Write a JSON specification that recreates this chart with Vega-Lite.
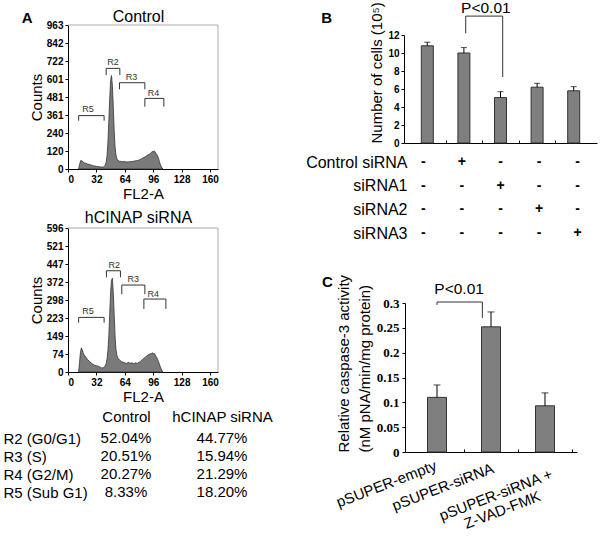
{
"$schema":"https://vega.github.io/schema/vega-lite/v6.json",
"width":600,"height":537,"padding":0,"autosize":{"type":"none"},
"background":"white",
"config":{"view":{"stroke":null},
 "axis":{"grid":false,"domainColor":"#000","tickColor":"#000","labelColor":"#000","titleColor":"#000","labelFont":"Liberation Sans","titleFont":"Liberation Sans","titleFontWeight":"normal","labelFontWeight":"bold"},
 "text":{"font":"Liberation Sans","color":"#000"}},
"datasets":{
 "histA1":[{"x":12,"count":0},{"x":13,"count":30},{"x":14.5,"count":58},{"x":16,"count":52},{"x":18,"count":42},{"x":20,"count":38},{"x":22,"count":33},{"x":24,"count":30},{"x":26,"count":27},{"x":28,"count":22},{"x":30,"count":20},{"x":32,"count":18},{"x":34,"count":16},{"x":36,"count":14},{"x":38,"count":13},{"x":40,"count":14},{"x":42,"count":25},{"x":43,"count":45},{"x":44,"count":90},{"x":45,"count":180},{"x":46,"count":320},{"x":47,"count":470},{"x":48,"count":590},{"x":49,"count":625},{"x":50,"count":560},{"x":51,"count":420},{"x":52,"count":260},{"x":53,"count":150},{"x":54,"count":95},{"x":55,"count":70},{"x":56,"count":58},{"x":58,"count":52},{"x":60,"count":50},{"x":62,"count":48},{"x":64,"count":50},{"x":66,"count":46},{"x":68,"count":48},{"x":70,"count":49},{"x":72,"count":50},{"x":74,"count":52},{"x":76,"count":55},{"x":78,"count":56},{"x":80,"count":60},{"x":82,"count":65},{"x":84,"count":72},{"x":86,"count":78},{"x":88,"count":85},{"x":90,"count":95},{"x":92,"count":100},{"x":94,"count":110},{"x":95,"count":118},{"x":96,"count":112},{"x":97,"count":122},{"x":98,"count":115},{"x":99,"count":105},{"x":100,"count":98},{"x":101,"count":85},{"x":102,"count":70},{"x":103,"count":50},{"x":104,"count":32},{"x":105,"count":18},{"x":106,"count":6},{"x":107,"count":0}],
 "histA2":[{"x":12,"count":0},{"x":13,"count":40},{"x":14,"count":80},{"x":15,"count":100},{"x":16,"count":92},{"x":17,"count":80},{"x":18,"count":72},{"x":20,"count":62},{"x":22,"count":52},{"x":24,"count":44},{"x":26,"count":38},{"x":28,"count":32},{"x":30,"count":28},{"x":32,"count":26},{"x":34,"count":24},{"x":36,"count":20},{"x":38,"count":17},{"x":40,"count":18},{"x":42,"count":25},{"x":43,"count":35},{"x":44,"count":55},{"x":45,"count":90},{"x":46,"count":150},{"x":47,"count":240},{"x":48,"count":330},{"x":49,"count":380},{"x":50,"count":388},{"x":51,"count":330},{"x":52,"count":240},{"x":53,"count":150},{"x":54,"count":95},{"x":55,"count":70},{"x":56,"count":58},{"x":58,"count":50},{"x":60,"count":44},{"x":62,"count":40},{"x":64,"count":38},{"x":66,"count":35},{"x":68,"count":40},{"x":70,"count":36},{"x":72,"count":38},{"x":74,"count":34},{"x":76,"count":38},{"x":78,"count":35},{"x":80,"count":40},{"x":82,"count":45},{"x":84,"count":52},{"x":86,"count":58},{"x":88,"count":64},{"x":90,"count":70},{"x":92,"count":74},{"x":94,"count":76},{"x":95,"count":80},{"x":96,"count":74},{"x":97,"count":78},{"x":98,"count":72},{"x":99,"count":66},{"x":100,"count":60},{"x":101,"count":52},{"x":102,"count":42},{"x":103,"count":32},{"x":104,"count":22},{"x":105,"count":12},{"x":106,"count":4},{"x":107,"count":0}],
 "brA1":[{"label":"R5","x1":12,"x2":40.7,"top":357,"bottom":323,"lx":22.6,"ly":403},{"label":"R2","x1":43,"x2":58.4,"top":673,"bottom":628,"lx":50.8,"ly":715},{"label":"R3","x1":58,"x2":86.6,"top":577,"bottom":533,"lx":71.5,"ly":617},{"label":"R4","x1":86.6,"x2":108,"top":472,"bottom":417,"lx":96.4,"ly":506}],
 "brA2":[{"label":"R5","x1":12,"x2":40.7,"top":226,"bottom":204,"lx":22.6,"ly":252},{"label":"R2","x1":43.3,"x2":59.1,"top":419,"bottom":392,"lx":52,"ly":442},{"label":"R3","x1":60.6,"x2":86.6,"top":360,"bottom":322,"lx":73.4,"ly":385},{"label":"R4","x1":85.5,"x2":110.3,"top":302,"bottom":261,"lx":96,"ly":323}],
 "phases":[{"phase":"R2 (G0/G1)","group":"Control","pct":"52.04%"},{"phase":"R2 (G0/G1)","group":"hCINAP siRNA","pct":"44.77%"},{"phase":"R3 (S)","group":"Control","pct":"20.51%"},{"phase":"R3 (S)","group":"hCINAP siRNA","pct":"15.94%"},{"phase":"R4 (G2/M)","group":"Control","pct":"20.27%"},{"phase":"R4 (G2/M)","group":"hCINAP siRNA","pct":"21.29%"},{"phase":"R5 (Sub G1)","group":"Control","pct":"8.33%"},{"phase":"R5 (Sub G1)","group":"hCINAP siRNA","pct":"18.20%"}],
 "cells":[{"i":1,"value":10.8,"upper":11.2},{"i":2,"value":10.0,"upper":10.6},{"i":3,"value":5.05,"upper":5.7},{"i":4,"value":6.2,"upper":6.63},{"i":5,"value":5.8,"upper":6.26}],
 "signs":[{"treatment":"Control siRNA","i":1,"s":"-"},{"treatment":"Control siRNA","i":2,"s":"+"},{"treatment":"Control siRNA","i":3,"s":"-"},{"treatment":"Control siRNA","i":4,"s":"-"},{"treatment":"Control siRNA","i":5,"s":"-"},{"treatment":"siRNA1","i":1,"s":"-"},{"treatment":"siRNA1","i":2,"s":"-"},{"treatment":"siRNA1","i":3,"s":"+"},{"treatment":"siRNA1","i":4,"s":"-"},{"treatment":"siRNA1","i":5,"s":"-"},{"treatment":"siRNA2","i":1,"s":"-"},{"treatment":"siRNA2","i":2,"s":"-"},{"treatment":"siRNA2","i":3,"s":"-"},{"treatment":"siRNA2","i":4,"s":"+"},{"treatment":"siRNA2","i":5,"s":"-"},{"treatment":"siRNA3","i":1,"s":"-"},{"treatment":"siRNA3","i":2,"s":"-"},{"treatment":"siRNA3","i":3,"s":"-"},{"treatment":"siRNA3","i":4,"s":"-"},{"treatment":"siRNA3","i":5,"s":"+"}],
 "casp":[{"i":1,"group":"pSUPER-empty","value":0.110,"upper":0.135},{"i":2,"group":"pSUPER-siRNA","value":0.252,"upper":0.282},{"i":3,"group":"pSUPER-siRNA + Z-VAD-FMK","value":0.093,"upper":0.119}],
 "caspLabels":[{"label":"pSUPER-empty","lx":0.064,"ly":-0.0644},{"label":"pSUPER-siRNA","lx":1.11,"ly":-0.0704},{"label":"pSUPER-siRNA +","lx":2.087,"ly":-0.0865},{"label":"Z-VAD-FMK","lx":2.209,"ly":-0.1167}]
},
"layer":[
 {"layer":[
  {"data":{"name":"histA1"},"mark":{"type":"area","color":"#7a7a7a","stroke":"#333","strokeWidth":0.8},
   "encoding":{
    "x":{"field":"x","type":"quantitative","scale":{"domain":[0,169],"range":[68,218],"nice":false,"zero":false},
      "axis":{"orient":"bottom","offset":-368,"values":[0,32,64,96,128,160],"format":"d","tickSize":3,"labelFontSize":10,"labelPadding":2,"title":"FL2-A","titleFontSize":15,"titlePadding":2}},
    "y":{"field":"count","type":"quantitative","scale":{"domain":[0,963],"range":[169,25],"nice":false,"zero":false},
      "axis":{"orient":"left","offset":-68,"values":[0,120,240,361,481,601,722,842,963],"format":"d","tickSize":3,"labelFontSize":10,"labelPadding":2,"title":"Counts","titleFontSize":15,"titlePadding":2}}}},
  {"data":{"values":[{}]},"mark":{"type":"rule","color":"#aaa"},
   "encoding":{"x":{"datum":0,"type":"quantitative","scale":{"domain":[0,169],"range":[68,218],"nice":false,"zero":false}},"x2":{"datum":169},
    "y":{"datum":963,"type":"quantitative","scale":{"domain":[0,963],"range":[169,25],"nice":false,"zero":false}}}},
  {"data":{"values":[{}]},"mark":{"type":"rule","color":"#aaa"},
   "encoding":{"x":{"datum":169,"type":"quantitative","scale":{"domain":[0,169],"range":[68,218],"nice":false,"zero":false}},
    "y":{"datum":0,"type":"quantitative","scale":{"domain":[0,963],"range":[169,25],"nice":false,"zero":false}},"y2":{"datum":963}}},
  {"data":{"name":"brA1"},"mark":{"type":"rule","color":"#333"},
   "encoding":{"x":{"field":"x1","type":"quantitative","scale":{"domain":[0,169],"range":[68,218],"nice":false,"zero":false}},"x2":{"field":"x2"},
    "y":{"field":"top","type":"quantitative","scale":{"domain":[0,963],"range":[169,25],"nice":false,"zero":false}}}},
  {"data":{"name":"brA1"},"mark":{"type":"rule","color":"#333"},
   "encoding":{"x":{"field":"x1","type":"quantitative","scale":{"domain":[0,169],"range":[68,218],"nice":false,"zero":false}},
    "y":{"field":"top","type":"quantitative","scale":{"domain":[0,963],"range":[169,25],"nice":false,"zero":false}},"y2":{"field":"bottom"}}},
  {"data":{"name":"brA1"},"mark":{"type":"rule","color":"#333"},
   "encoding":{"x":{"field":"x2","type":"quantitative","scale":{"domain":[0,169],"range":[68,218],"nice":false,"zero":false}},
    "y":{"field":"top","type":"quantitative","scale":{"domain":[0,963],"range":[169,25],"nice":false,"zero":false}},"y2":{"field":"bottom"}}},
  {"data":{"name":"brA1"},"mark":{"type":"text","fontSize":9,"color":"#333","baseline":"middle"},
   "encoding":{"x":{"field":"lx","type":"quantitative","scale":{"domain":[0,169],"range":[68,218],"nice":false,"zero":false}},
    "y":{"field":"ly","type":"quantitative","scale":{"domain":[0,963],"range":[169,25],"nice":false,"zero":false}},"text":{"field":"label"}}},
  {"data":{"values":[{"t":"Control","x":79.4,"y":1016}]},"mark":{"type":"text","fontSize":16,"baseline":"middle"},
   "encoding":{"x":{"field":"x","type":"quantitative","scale":{"domain":[0,169],"range":[68,218],"nice":false,"zero":false}},
    "y":{"field":"y","type":"quantitative","scale":{"domain":[0,963],"range":[169,25],"nice":false,"zero":false}},"text":{"field":"t"}}},
  {"data":{"values":[{"t":"A","x":-46,"y":1010}]},"mark":{"type":"text","fontSize":15,"fontWeight":"bold","baseline":"middle"},
   "encoding":{"x":{"field":"x","type":"quantitative","scale":{"domain":[0,169],"range":[68,218],"nice":false,"zero":false}},
    "y":{"field":"y","type":"quantitative","scale":{"domain":[0,963],"range":[169,25],"nice":false,"zero":false}},"text":{"field":"t"}}}
 ]},
 {"layer":[
  {"data":{"name":"histA2"},"mark":{"type":"area","color":"#7a7a7a","stroke":"#333","strokeWidth":0.8},
   "encoding":{
    "x":{"field":"x","type":"quantitative","scale":{"domain":[0,169],"range":[68,218],"nice":false,"zero":false},
      "axis":{"orient":"bottom","offset":-165,"values":[0,32,64,96,128,160],"format":"d","tickSize":3,"labelFontSize":10,"labelPadding":2,"title":"FL2-A","titleFontSize":15,"titlePadding":2}},
    "y":{"field":"count","type":"quantitative","scale":{"domain":[0,596],"range":[372,228],"nice":false,"zero":false},
      "axis":{"orient":"left","offset":-68,"values":[0,74,149,223,298,372,447,521,596],"format":"d","tickSize":3,"labelFontSize":10,"labelPadding":2,"title":"Counts","titleFontSize":15,"titlePadding":2}}}},
  {"data":{"values":[{}]},"mark":{"type":"rule","color":"#aaa"},
   "encoding":{"x":{"datum":0,"type":"quantitative","scale":{"domain":[0,169],"range":[68,218],"nice":false,"zero":false}},"x2":{"datum":169},
    "y":{"datum":596,"type":"quantitative","scale":{"domain":[0,596],"range":[372,228],"nice":false,"zero":false}}}},
  {"data":{"values":[{}]},"mark":{"type":"rule","color":"#aaa"},
   "encoding":{"x":{"datum":169,"type":"quantitative","scale":{"domain":[0,169],"range":[68,218],"nice":false,"zero":false}},
    "y":{"datum":0,"type":"quantitative","scale":{"domain":[0,596],"range":[372,228],"nice":false,"zero":false}},"y2":{"datum":596}}},
  {"data":{"name":"brA2"},"mark":{"type":"rule","color":"#333"},
   "encoding":{"x":{"field":"x1","type":"quantitative","scale":{"domain":[0,169],"range":[68,218],"nice":false,"zero":false}},"x2":{"field":"x2"},
    "y":{"field":"top","type":"quantitative","scale":{"domain":[0,596],"range":[372,228],"nice":false,"zero":false}}}},
  {"data":{"name":"brA2"},"mark":{"type":"rule","color":"#333"},
   "encoding":{"x":{"field":"x1","type":"quantitative","scale":{"domain":[0,169],"range":[68,218],"nice":false,"zero":false}},
    "y":{"field":"top","type":"quantitative","scale":{"domain":[0,596],"range":[372,228],"nice":false,"zero":false}},"y2":{"field":"bottom"}}},
  {"data":{"name":"brA2"},"mark":{"type":"rule","color":"#333"},
   "encoding":{"x":{"field":"x2","type":"quantitative","scale":{"domain":[0,169],"range":[68,218],"nice":false,"zero":false}},
    "y":{"field":"top","type":"quantitative","scale":{"domain":[0,596],"range":[372,228],"nice":false,"zero":false}},"y2":{"field":"bottom"}}},
  {"data":{"name":"brA2"},"mark":{"type":"text","fontSize":9,"color":"#333","baseline":"middle"},
   "encoding":{"x":{"field":"lx","type":"quantitative","scale":{"domain":[0,169],"range":[68,218],"nice":false,"zero":false}},
    "y":{"field":"ly","type":"quantitative","scale":{"domain":[0,596],"range":[372,228],"nice":false,"zero":false}},"text":{"field":"label"}}},
  {"data":{"values":[{"t":"hCINAP siRNA","x":79.4,"y":637}]},"mark":{"type":"text","fontSize":16,"baseline":"middle"},
   "encoding":{"x":{"field":"x","type":"quantitative","scale":{"domain":[0,169],"range":[68,218],"nice":false,"zero":false}},
    "y":{"field":"y","type":"quantitative","scale":{"domain":[0,596],"range":[372,228],"nice":false,"zero":false}},"text":{"field":"t"}}}
 ]},
 {"data":{"name":"phases"},"mark":{"type":"text","fontSize":15,"baseline":"middle"},
  "encoding":{
   "x":{"field":"group","type":"ordinal","scale":{"type":"point","domain":["Control","hCINAP siRNA"],"range":[126,222],"padding":0},
     "axis":{"orient":"top","offset":-424,"domain":false,"ticks":false,"tickSize":0,"labelPadding":0,"labelFontSize":15,"labelFontWeight":"normal","labelAngle":0,"title":null}},
   "y":{"field":"phase","type":"ordinal","scale":{"type":"point","domain":["R2 (G0/G1)","R3 (S)","R4 (G2/M)","R5 (Sub G1)"],"range":[438,492],"padding":0},
     "axis":{"orient":"left","offset":-3,"domain":false,"ticks":false,"tickSize":0,"labelPadding":0,"labelAlign":"left","labelFontSize":15,"labelFontWeight":"normal","title":null}},
   "text":{"field":"pct"}}},
 {"layer":[
  {"data":{"name":"cells"},"mark":{"type":"bar","orient":"vertical","width":12,"color":"#7f7f7f","stroke":"#333","strokeWidth":1},
   "encoding":{
    "x":{"field":"i","type":"quantitative","scale":{"domain":[0.5,5.5],"range":[404,597],"nice":false,"zero":false},
      "axis":{"orient":"bottom","offset":-394,"values":[1.5,2.5,3.5,4.5],"labels":false,"tickSize":-3,"title":null}},
    "y":{"field":"value","type":"quantitative","scale":{"domain":[0,12],"range":[143,35],"nice":false,"zero":false},
      "axis":{"orient":"left","offset":-404,"values":[0,2,4,6,8,10,12],"tickSize":3,"labelFontSize":10,"labelPadding":2,"title":"Number of cells (10⁵)","titleFontSize":15,"titleAnchor":"start","titlePadding":3}}}},
  {"data":{"name":"cells"},"mark":{"type":"rule","color":"#000"},
   "encoding":{"x":{"field":"i","type":"quantitative","scale":{"domain":[0.5,5.5],"range":[404,597],"nice":false,"zero":false}},
    "y":{"field":"value","type":"quantitative","scale":{"domain":[0,12],"range":[143,35],"nice":false,"zero":false}},"y2":{"field":"upper"}}},
  {"data":{"name":"cells"},"mark":{"type":"tick","orient":"horizontal","size":6,"thickness":1,"color":"#000"},
   "encoding":{"x":{"field":"i","type":"quantitative","scale":{"domain":[0.5,5.5],"range":[404,597],"nice":false,"zero":false}},
    "y":{"field":"upper","type":"quantitative","scale":{"domain":[0,12],"range":[143,35],"nice":false,"zero":false}}}},
  {"data":{"values":[{"x1":2.05,"x2":3.06,"top":14.1,"bl":12.2,"br":7.33}]},"mark":{"type":"rule","color":"#333"},
   "encoding":{"x":{"field":"x1","type":"quantitative","scale":{"domain":[0.5,5.5],"range":[404,597],"nice":false,"zero":false}},"x2":{"field":"x2"},
    "y":{"field":"top","type":"quantitative","scale":{"domain":[0,12],"range":[143,35],"nice":false,"zero":false}}}},
  {"data":{"values":[{"x1":2.05,"x2":3.06,"top":14.1,"bl":12.2,"br":7.33}]},"mark":{"type":"rule","color":"#333"},
   "encoding":{"x":{"field":"x1","type":"quantitative","scale":{"domain":[0.5,5.5],"range":[404,597],"nice":false,"zero":false}},
    "y":{"field":"top","type":"quantitative","scale":{"domain":[0,12],"range":[143,35],"nice":false,"zero":false}},"y2":{"field":"bl"}}},
  {"data":{"values":[{"x1":2.05,"x2":3.06,"top":14.1,"bl":12.2,"br":7.33}]},"mark":{"type":"rule","color":"#333"},
   "encoding":{"x":{"field":"x2","type":"quantitative","scale":{"domain":[0.5,5.5],"range":[404,597],"nice":false,"zero":false}},
    "y":{"field":"top","type":"quantitative","scale":{"domain":[0,12],"range":[143,35],"nice":false,"zero":false}},"y2":{"field":"br"}}},
  {"data":{"values":[{"t":"P<0.01","x":2.6,"y":15.0}]},"mark":{"type":"text","fontSize":15.5,"baseline":"middle"},
   "encoding":{"x":{"field":"x","type":"quantitative","scale":{"domain":[0.5,5.5],"range":[404,597],"nice":false,"zero":false}},
    "y":{"field":"y","type":"quantitative","scale":{"domain":[0,12],"range":[143,35],"nice":false,"zero":false}},"text":{"field":"t"}}},
  {"data":{"values":[{"t":"B","x":-1.75,"y":13.9}]},"mark":{"type":"text","fontSize":15,"fontWeight":"bold","baseline":"middle"},
   "encoding":{"x":{"field":"x","type":"quantitative","scale":{"domain":[0.5,5.5],"range":[404,597],"nice":false,"zero":false}},
    "y":{"field":"y","type":"quantitative","scale":{"domain":[0,12],"range":[143,35],"nice":false,"zero":false}},"text":{"field":"t"}}}
 ]},
 {"data":{"name":"signs"},"mark":{"type":"text","fontSize":14,"fontWeight":"bold","baseline":"middle"},
  "encoding":{
   "x":{"field":"i","type":"quantitative","scale":{"domain":[0.5,5.5],"range":[404,597],"nice":false,"zero":false},"axis":null},
   "y":{"field":"treatment","type":"ordinal","scale":{"type":"point","domain":["Control siRNA","siRNA1","siRNA2","siRNA3"],"range":[162,233],"padding":0},
     "axis":{"orient":"left","offset":-407,"domain":false,"ticks":false,"tickSize":0,"labelPadding":0,"labelFontSize":16,"labelFontWeight":"normal","title":null}},
   "text":{"field":"s"}}},
 {"layer":[
  {"data":{"name":"casp"},"mark":{"type":"bar","orient":"vertical","width":19,"color":"#7f7f7f","stroke":"#333","strokeWidth":1},
   "encoding":{
    "x":{"field":"i","type":"quantitative","scale":{"domain":[0.5,3.5],"range":[405,577],"nice":false,"zero":false},
      "axis":{"orient":"bottom","offset":-85,"values":[1.5,2.5,3.5],"labels":false,"tickSize":-3,"title":null}},
    "y":{"field":"value","type":"quantitative","scale":{"domain":[0,0.3],"range":[452,303],"nice":false,"zero":false},
      "axis":{"orient":"left","offset":-405,"values":[0,0.05,0.1,0.15,0.2,0.25,0.3],"format":"~g","tickSize":3,"labelFont":"Liberation Serif","labelFontSize":13,"labelPadding":3,"title":["Relative caspase-3 activity","(nM pNA/min/mg protein)"],"titleFontSize":15,"titleLineHeight":21,"titleAnchor":"start","titlePadding":4}}}},
  {"data":{"name":"casp"},"mark":{"type":"rule","color":"#000"},
   "encoding":{"x":{"field":"i","type":"quantitative","scale":{"domain":[0.5,3.5],"range":[405,577],"nice":false,"zero":false}},
    "y":{"field":"value","type":"quantitative","scale":{"domain":[0,0.3],"range":[452,303],"nice":false,"zero":false}},"y2":{"field":"upper"}}},
  {"data":{"name":"casp"},"mark":{"type":"tick","orient":"horizontal","size":7,"thickness":1,"color":"#000"},
   "encoding":{"x":{"field":"i","type":"quantitative","scale":{"domain":[0.5,3.5],"range":[405,577],"nice":false,"zero":false}},
    "y":{"field":"upper","type":"quantitative","scale":{"domain":[0,0.3],"range":[452,303],"nice":false,"zero":false}}}},
  {"data":{"name":"caspLabels"},"mark":{"type":"text","fontSize":15,"angle":-21,"align":"center","baseline":"middle"},
   "encoding":{"x":{"field":"lx","type":"quantitative","scale":{"domain":[0.5,3.5],"range":[405,577],"nice":false,"zero":false}},
    "y":{"field":"ly","type":"quantitative","scale":{"domain":[0,0.3],"range":[452,303],"nice":false,"zero":false}},"text":{"field":"label"}}},
  {"data":{"values":[{"x1":1.0,"x2":1.84,"top":0.302,"bl":0.296,"br":0.27}]},"mark":{"type":"rule","color":"#333"},
   "encoding":{"x":{"field":"x1","type":"quantitative","scale":{"domain":[0.5,3.5],"range":[405,577],"nice":false,"zero":false}},"x2":{"field":"x2"},
    "y":{"field":"top","type":"quantitative","scale":{"domain":[0,0.3],"range":[452,303],"nice":false,"zero":false}}}},
  {"data":{"values":[{"x1":1.0,"x2":1.84,"top":0.302,"bl":0.296,"br":0.27}]},"mark":{"type":"rule","color":"#333"},
   "encoding":{"x":{"field":"x1","type":"quantitative","scale":{"domain":[0.5,3.5],"range":[405,577],"nice":false,"zero":false}},
    "y":{"field":"top","type":"quantitative","scale":{"domain":[0,0.3],"range":[452,303],"nice":false,"zero":false}},"y2":{"field":"bl"}}},
  {"data":{"values":[{"x1":1.0,"x2":1.84,"top":0.302,"bl":0.296,"br":0.27}]},"mark":{"type":"rule","color":"#333"},
   "encoding":{"x":{"field":"x2","type":"quantitative","scale":{"domain":[0.5,3.5],"range":[405,577],"nice":false,"zero":false}},
    "y":{"field":"top","type":"quantitative","scale":{"domain":[0,0.3],"range":[452,303],"nice":false,"zero":false}},"y2":{"field":"br"}}},
  {"data":{"values":[{"t":"P<0.01","x":1.41,"y":0.329}]},"mark":{"type":"text","fontSize":15.5,"baseline":"middle"},
   "encoding":{"x":{"field":"x","type":"quantitative","scale":{"domain":[0.5,3.5],"range":[405,577],"nice":false,"zero":false}},
    "y":{"field":"y","type":"quantitative","scale":{"domain":[0,0.3],"range":[452,303],"nice":false,"zero":false}},"text":{"field":"t"}}},
  {"data":{"values":[{"t":"C","x":-1.03,"y":0.342}]},"mark":{"type":"text","fontSize":15,"fontWeight":"bold","baseline":"middle"},
   "encoding":{"x":{"field":"x","type":"quantitative","scale":{"domain":[0.5,3.5],"range":[405,577],"nice":false,"zero":false}},
    "y":{"field":"y","type":"quantitative","scale":{"domain":[0,0.3],"range":[452,303],"nice":false,"zero":false}},"text":{"field":"t"}}}
 ]}
],
"resolve":{"scale":{"x":"independent","y":"independent"},"axis":{"x":"independent","y":"independent"}}
}
